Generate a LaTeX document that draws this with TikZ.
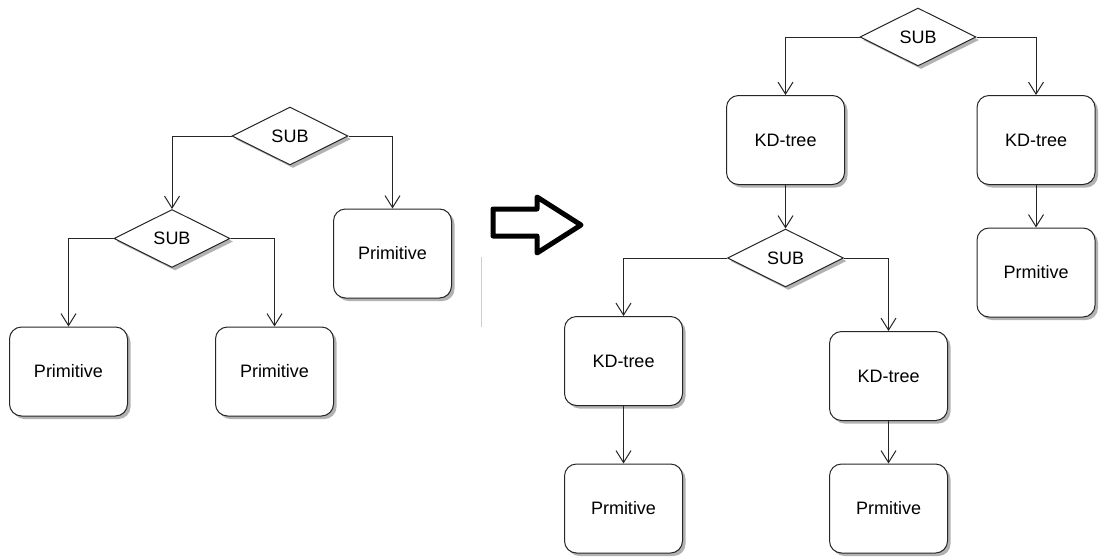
\documentclass[tikz,border=0pt]{standalone}
\usepackage{fontspec}
\setmainfont{Liberation Sans}
\usetikzlibrary{shapes.geometric,arrows.meta,shadows}
\begin{document}
\begin{tikzpicture}[x=1pt,y=-1pt,
  font=\fontsize{18}{21}\selectfont,
  sh/.style={drop shadow={shadow xshift=3pt,shadow yshift=-3pt,fill=black!30,opacity=1}},
  box/.style={draw=black!85,line width=1pt,fill=white,rounded corners=12pt,
    minimum width=118pt,minimum height=89pt,inner sep=0pt,sh},
  dia/.style={draw=black!85,line width=1pt,fill=white,diamond,
    minimum width=116pt,minimum height=58pt,inner sep=0pt,sh},
  link/.style={draw=black!85,line width=1pt,-{Straight Barb[length=12pt,width=15pt,line width=1pt]}},
]
\useasboundingbox (0,0) rectangle (1099,557);
% left tree
\node[dia] (s1) at (290,136) {SUB};
\node[dia] (s2) at (172,238.5) {SUB};
\node[box] (p1) at (392.5,253.5) {Primitive};
\node[box] (p2) at (68.5,371.5) {Primitive};
\node[box] (p3) at (274.5,371.5) {Primitive};
\draw[link] (s1.west) -| (s2.north);
\draw[link] (s1.east) -| (p1.north);
\draw[link] (s2.west) -| (p2.north);
\draw[link] (s2.east) -| (p3.north);
% transform arrow
\draw[line width=5pt,line join=round]
  (493,209) -- (537,209) -- (537,197) -- (581,225) -- (537,253) -- (537,236) -- (493,236) -- cycle;
\draw[black!20,line width=1pt] (481.7,257) -- (481.7,327);
% right tree
\node[dia] (t1) at (918,37) {SUB};
\node[box] (k1) at (785.5,140) {KD-tree};
\node[box] (k2) at (1036,140) {KD-tree};
\node[dia] (t2) at (785.5,258) {SUB};
\node[box] (q1) at (1036,272.5) {Prmitive};
\node[box] (k3) at (623.5,361) {KD-tree};
\node[box] (k4) at (888.5,376) {KD-tree};
\node[box] (q2) at (623.5,508.5) {Prmitive};
\node[box] (q3) at (888.5,508.5) {Prmitive};
\draw[link] (t1.west) -| (k1.north);
\draw[link] (t1.east) -| (k2.north);
\draw[link] (k1.south) -- (t2.north);
\draw[link] (k2.south) -- (q1.north);
\draw[link] (t2.west) -| (k3.north);
\draw[link] (t2.east) -| (k4.north);
\draw[link] (k3.south) -- (q2.north);
\draw[link] (k4.south) -- (q3.north);
\end{tikzpicture}
\end{document}
